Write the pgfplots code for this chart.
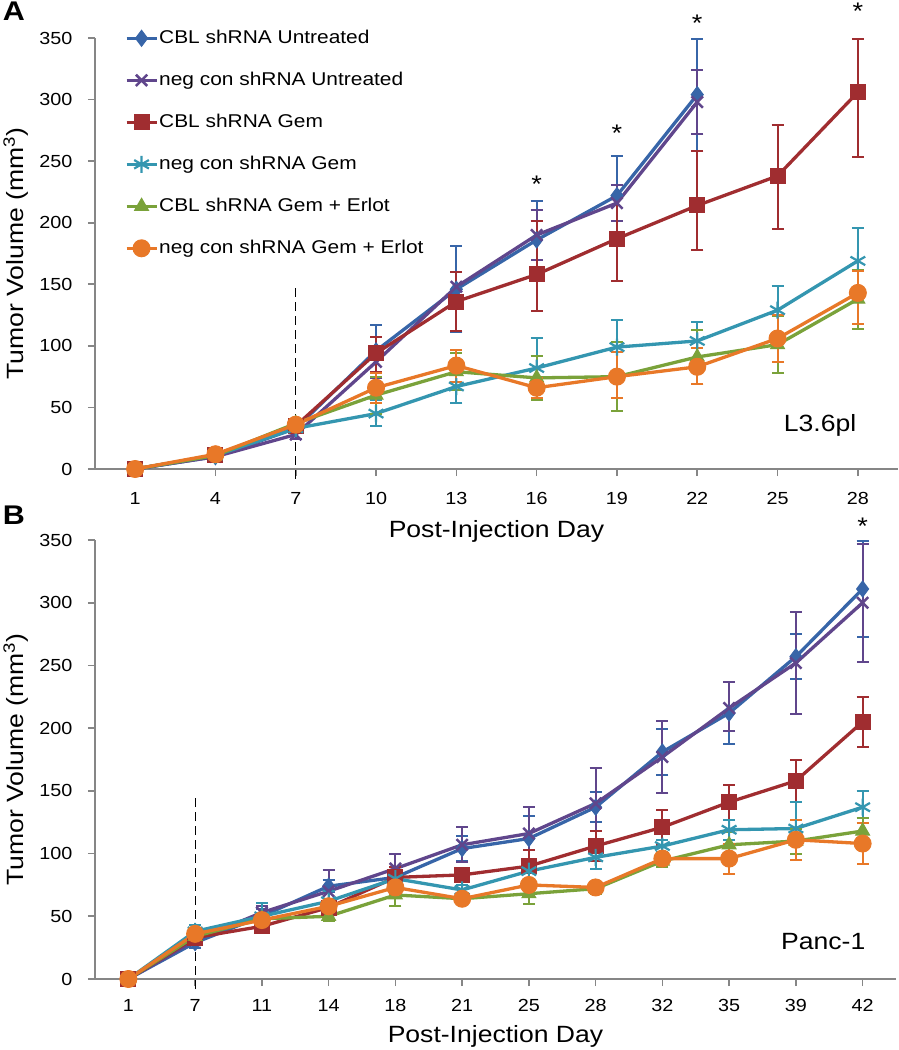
\documentclass[border=0pt]{standalone}
\usepackage{fontspec}
\setmainfont{Liberation Sans}[FakeStretch=1.13]
\usepackage{pgfplots}
\usepackage{pgfplotstable}
\pgfplotsset{compat=1.18}

\definecolor{axgray}{RGB}{134,134,134}
\definecolor{cblu}{RGB}{55,101,168}
\definecolor{cpur}{RGB}{96,70,140}
\definecolor{cred}{RGB}{160,45,48}
\definecolor{ccya}{RGB}{52,150,176}
\definecolor{cgrn}{RGB}{122,162,58}
\definecolor{cora}{RGB}{232,120,40}

% panel A: x index 0..9 = days 1,4,...,28 ; columns: y, error plus, error minus
\pgfplotstableread{
x y ep em
0 0 1 1
1 10 2 2
2 33 4 4
3 96 21 21
4 146 35 35
5 186 32 32
6 222 32 32
7 304 45 46
}\Ablu
\pgfplotstableread{
x y ep em
0 0 1 1
1 10 2 2
2 28 4 4
3 87 13 13
4 148 12 12
5 190 20 20
6 216 15 15
7 298 26 26
}\Apur
\pgfplotstableread{
x y ep em
0 0 1 1
1 11 2 2
2 35 4 4
3 94 13 15
4 136 24 24
5 158 43 30
6 187 34 34
7 214 44 36
8 238 41 43
9 306 43 53
}\Ared
\pgfplotstableread{
x y ep em
0 0 1 1
1 11 2 2
2 33 4 4
3 45 11 10
4 67 13 13
5 82 24 24
6 99 22 22
7 104 15 15
8 129 20 20
9 169 27 27
}\Acya
\pgfplotstableread{
x y ep em
0 0 1 1
1 11 2 2
2 37 4 4
3 60 15 15
4 79 15 15
5 74 18 18
6 75 28 28
7 91 22 22
8 101 23 23
9 138 24 24
}\Agrn
\pgfplotstableread{
x y ep em
0 0 1 1
1 12 2 2
2 36 4 4
3 66 12 12
4 84 13 13
5 66 8 8
6 75 20 17
7 83 15 14
8 106 19 19
9 143 18 25
}\Aora

% panel B: x index 0..11 = days 1,7,11,...,42
\pgfplotstableread{
x y ep em
0 0 1 1
1 29 4 4
2 50 6 6
3 74 5 5
4 81 8 8
5 104 10 10
6 112 18 18
7 137 12 12
8 181 18 18
9 212 25 25
10 257 18 18
11 311 38 38
}\Bblu
\pgfplotstableread{
x y ep em
0 0 1 1
1 31 4 4
2 53 5 5
3 70 17 17
4 88 12 12
5 107 14 14
6 116 21 21
7 140 28 28
8 177 29 29
9 216 21 18
10 252 41 41
11 300 47 47
}\Bpur
\pgfplotstableread{
x y ep em
0 0 1 1
1 33 4 4
2 42 5 5
3 57 5 5
4 81 8 8
5 83 5 5
6 90 13 13
7 106 12 12
8 121 14 14
9 141 14 14
10 158 17 17
11 205 20 20
}\Bred
\pgfplotstableread{
x y ep em
0 0 1 1
1 38 5 5
2 50 11 11
3 62 8 8
4 80 5 5
5 71 4 4
6 86 6 6
7 97 9 9
8 106 5 5
9 119 8 8
10 120 21 20
11 137 13 13
}\Bcya
\pgfplotstableread{
x y ep em
0 0 1 1
1 34 4 4
2 48 4 4
3 50 4 4
4 67 9 9
5 64 3 3
6 68 8 8
7 72 4 4
8 94 5 5
9 107 10 10
10 110 10 10
11 118 10 10
}\Bgrn
\pgfplotstableread{
x y ep em
0 0 1 1
1 36 4 4
2 47 4 4
3 58 4 4
4 73 5 5
5 64 3 3
6 75 4 4
7 73 3 3
8 96 4 4
9 96 12 12
10 111 16 16
11 108 16 16
}\Bora

\pgfplotsset{
  excel/.style={
    scale only axis, clip=false,
    axis x line=bottom, axis y line=left,
    axis line style={-, draw=axgray, line width=2pt},
    tick align=outside, major tick length=7pt,
    tick style={draw=axgray, line width=1.6pt},
    ymin=0, ymax=350, ytick={0,50,...,350},
    tick label style={font=\fontsize{17.5}{20}\selectfont},
    yticklabel style={xshift=-12pt},
    label style={font=\fontsize{23.5}{26}\selectfont},
    /pgf/number format/assume math mode=true,
  },
  ebar/.style={
    error bars/y dir=both, error bars/y explicit,
    error bars/error bar style={line width=2pt},
    error bars/error mark options={rotate=90, mark size=6pt, line width=2pt},
  },
  s1/.style={ebar, color=cblu, line width=3.3pt, mark=diamond*, mark size=8pt, mark options={solid, line width=1pt}},
  s2/.style={ebar, color=cpur, line width=3.3pt, mark=x, mark size=8pt, mark options={solid, line width=2.5pt}},
  s3/.style={ebar, color=cred, line width=3.3pt, mark=square*, mark size=7.5pt, mark options={solid, line width=1pt}},
  s4/.style={ebar, color=ccya, line width=3.3pt, mark=asterisk, mark size=8.5pt, mark options={solid, line width=2.2pt}},
  s5/.style={ebar, color=cgrn, line width=3.3pt, mark=triangle*, mark size=8pt, mark options={solid, line width=1pt}},
  s6/.style={ebar, color=cora, line width=3.3pt, mark=*, mark size=8.5pt, mark options={solid, line width=1pt}},
}

\begin{document}
\begin{tikzpicture}
\path[use as bounding box] (0pt,0pt) rectangle (898pt,-1050pt);

% ---------- panel A
\begin{axis}[excel,
    at={(95pt,-469pt)}, anchor=south west,
    width=803pt, height=431pt,
    xmin=-0.5, xmax=9.5,
    xtick={0,...,9}, xticklabels={1,4,7,10,13,16,19,22,25,28},
    xticklabel shift=13pt,
    xlabel={Post-Injection Day},
    ylabel={Tumor Volume (mm\textsuperscript{3})},
    xlabel style={at={(rel axis cs:0.5,-0.160)}, anchor=base},
    ylabel style={at={(rel axis cs:-0.0984,0.5)}, anchor=center, rotate=0},
    legend cell align=left,
    legend style={draw=none, fill=none, at={(0.037,1.023)}, anchor=north west,
      inner sep=0pt, row sep=22pt,
      nodes={inner sep=1pt, text height=14pt, text depth=4pt},
      font=\fontsize{18.5}{20}\selectfont},
    legend image code/.code={\draw[mark repeat=2, mark phase=2] plot coordinates {(0pt,0pt) (15pt,0pt) (30pt,0pt)};},
  ]
  \addplot[forget plot, black, line width=1pt, dash pattern=on 9pt off 5pt] coordinates {(2,-8) (2,150)};
  \addplot[s1] table[x=x, y=y, y error plus=ep, y error minus=em] {\Ablu};
  \addlegendentry{CBL shRNA Untreated}
  \addplot[s2] table[x=x, y=y, y error plus=ep, y error minus=em] {\Apur};
  \addlegendentry{neg con shRNA Untreated}
  \addplot[s3] table[x=x, y=y, y error plus=ep, y error minus=em] {\Ared};
  \addlegendentry{CBL shRNA Gem}
  \addplot[s4] table[x=x, y=y, y error plus=ep, y error minus=em] {\Acya};
  \addlegendentry{neg con shRNA Gem}
  \addplot[s5] table[x=x, y=y, y error plus=ep, y error minus=em] {\Agrn};
  \addlegendentry{CBL shRNA Gem + Erlot}
  \addplot[s6] table[x=x, y=y, y error plus=ep, y error minus=em] {\Aora};
  \addlegendentry{neg con shRNA Gem + Erlot}
  \node[font=\fontsize{24}{24}\selectfont, yshift=-5pt] at (axis cs:5,235) {*};
  \node[font=\fontsize{24}{24}\selectfont, yshift=-5pt] at (axis cs:6,277) {*};
  \node[font=\fontsize{24}{24}\selectfont, yshift=-5pt] at (axis cs:7,366) {*};
  \node[font=\fontsize{24}{24}\selectfont, yshift=-5pt] at (axis cs:9,376) {*};
  \node[font=\fontsize{23.5}{26}\selectfont] at (axis cs:8.53,35) {L3.6pl};
\end{axis}

% ---------- panel B
\begin{axis}[excel,
    at={(95pt,-979pt)}, anchor=south west,
    width=801pt, height=439pt,
    xmin=-0.5, xmax=11.5,
    xtick={0,...,11}, xticklabels={1,7,11,14,18,21,25,28,32,35,39,42},
    xticklabel shift=10pt,
    xlabel={Post-Injection Day},
    ylabel={Tumor Volume (mm\textsuperscript{3})},
    xlabel style={at={(rel axis cs:0.5,-0.1435)}, anchor=base},
    ylabel style={at={(rel axis cs:-0.0986,0.5)}, anchor=center, rotate=0},
  ]
  \addplot[forget plot, black, line width=1pt, dash pattern=on 9pt off 5pt] coordinates {(1,-8) (1,147)};
  \addplot[s1] table[x=x, y=y, y error plus=ep, y error minus=em] {\Bblu};
  \addplot[s2] table[x=x, y=y, y error plus=ep, y error minus=em] {\Bpur};
  \addplot[s3] table[x=x, y=y, y error plus=ep, y error minus=em] {\Bred};
  \addplot[s4] table[x=x, y=y, y error plus=ep, y error minus=em] {\Bcya};
  \addplot[s5] table[x=x, y=y, y error plus=ep, y error minus=em] {\Bgrn};
  \addplot[s6] table[x=x, y=y, y error plus=ep, y error minus=em] {\Bora};
  \node[font=\fontsize{24}{24}\selectfont, yshift=-5pt] at (axis cs:11,365) {*};
  \node[font=\fontsize{23.5}{26}\selectfont] at (axis cs:10.41,30) {Panc-1};
\end{axis}

\node[font=\bfseries\fontsize{27}{27}\selectfont] at (14pt,-11pt) {A};
\node[font=\bfseries\fontsize{27}{27}\selectfont] at (14pt,-515pt) {B};
\end{tikzpicture}
\end{document}
